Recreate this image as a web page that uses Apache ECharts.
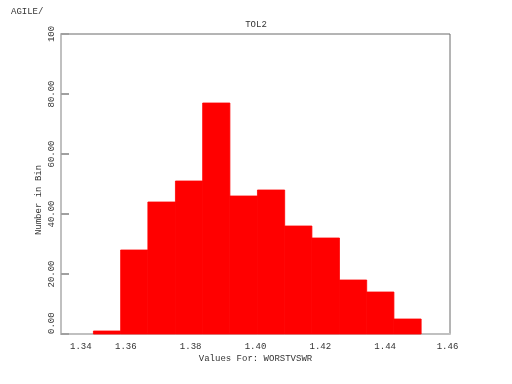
<!DOCTYPE html>
<html>
<head>
<meta charset="utf-8">
<script src="https://cdn.jsdelivr.net/npm/echarts@6/dist/echarts.min.js"></script>
<style>html,body{margin:0;padding:0;background:#fff}#c{width:512px;height:384px}</style>
</head>
<body>
<div id="c"></div>
<script>
var binEdges = [1.3500, 1.3584, 1.3668, 1.3753, 1.3837, 1.3921, 1.4006, 1.4090, 1.4174, 1.4259, 1.4343, 1.4427, 1.4511];
var counts = [1, 28, 44, 51, 77, 46, 48, 36, 32, 18, 14, 5];
var xTicks = [1.34, 1.36, 1.38, 1.40, 1.42, 1.44, 1.46];
var yTicks = [0, 20, 40, 60, 80, 100];

var data = counts.map(function (c, i) { return [binEdges[i], binEdges[i + 1], c]; });
var FONT = 'Liberation Mono';
var TXT = '#333';

var chart = echarts.init(document.getElementById('c'), null, { renderer: 'canvas' });
chart.setOption({
  animation: false,
  backgroundColor: '#fff',
  title: [
    { text: 'AGILE/', left: 11, top: 7, padding: 0, textStyle: { fontFamily: FONT, fontSize: 9, fontWeight: 'normal', color: TXT } },
    { text: 'TOL2', left: 'center', top: 20, padding: 0, textStyle: { fontFamily: FONT, fontSize: 9, fontWeight: 'normal', color: TXT } }
  ],
  grid: { left: 61, right: 62, top: 34, bottom: 50, show: true, borderColor: '#6a6a6a', borderWidth: 1, backgroundColor: 'transparent' },
  xAxis: {
    type: 'value',
    min: xTicks[0], max: xTicks[xTicks.length - 1], interval: 0.02,
    name: 'Values For: WORSTVSWR', nameLocation: 'middle', nameGap: 20, nameMoveOverlap: false,
    nameTextStyle: { fontFamily: FONT, fontSize: 9, color: TXT },
    axisLine: { show: true, lineStyle: { color: '#c0c0c0', width: 2 } },
    axisTick: { show: false },
    splitLine: { show: false },
    axisLabel: {
      fontFamily: FONT, fontSize: 9, color: TXT, margin: 8,
      showMinLabel: true, showMaxLabel: true,
      alignMinLabel: 'left',
      formatter: function (v) {
        var s = v.toFixed(2);
        if (Math.abs(v - xTicks[0]) < 1e-9) return '{mn|' + s + '}';
        if (Math.abs(v - xTicks[xTicks.length - 1]) < 1e-9) return '{mx|' + s + '}';
        return s;
      },
      rich: {
        mn: { fontFamily: FONT, fontSize: 9, color: TXT, padding: [0, 0, 0, 9] },
        mx: { fontFamily: FONT, fontSize: 9, color: TXT, padding: [0, 5, 0, 0] }
      }
    }
  },
  yAxis: {
    type: 'value',
    min: yTicks[0], max: yTicks[yTicks.length - 1], interval: 20,
    name: 'Number in Bin', nameLocation: 'middle', nameGap: 18, nameRotate: 90, nameMoveOverlap: false,
    nameTextStyle: { fontFamily: FONT, fontSize: 9, color: TXT, padding: [0, 32, 0, 0] },
    axisLine: { show: true, lineStyle: { color: '#c0c0c0', width: 2 } },
    axisTick: { show: true, inside: true, length: 8, lineStyle: { color: '#a0a0a0', width: 2 } },
    splitLine: { show: false },
    axisLabel: {
      fontFamily: FONT, fontSize: 9, color: TXT, rotate: 90, margin: 5,
      align: 'center', alignMinLabel: 'left', alignMaxLabel: 'center',
      formatter: function (v) { return v === 100 ? '100' : v.toFixed(2); }
    }
  },
  series: [{
    type: 'custom',
    data: data,
    encode: { x: [0, 1], y: 2 },
    renderItem: function (params, api) {
      var p0 = api.coord([api.value(0), api.value(2)]);
      var p1 = api.coord([api.value(1), 0]);
      return {
        type: 'rect',
        shape: { x: p0[0], y: p0[1], width: p1[0] - p0[0], height: p1[1] - p0[1] },
        style: { fill: '#ff0000', stroke: '#ff0000', lineWidth: 0.8 }
      };
    }
  }]
});
</script>
</body>
</html>
